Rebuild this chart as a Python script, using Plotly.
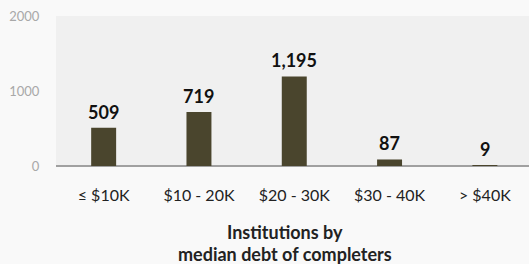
import plotly.graph_objects as go

categories = ["≤ $10K", "$10 - 20K", "$20 - 30K", "$30 - 40K", "> $40K"]
counts = [509, 719, 1195, 87, 9]
y_ticks = [0, 1000, 2000]
title_lines = ["Institutions by", "median debt of completers"]

FONT = "Lato"
W, H = 529, 264
ML, MR, MT, MB = 56, 0, 16, 98
plot_w = W - ML - MR
plot_h = H - MT - MB

fig = go.Figure()
fig.add_trace(go.Bar(
    x=categories, y=counts,
    marker=dict(color="#4a452d", line=dict(width=0)),
    hoverinfo="skip",
))

for c, v in zip(categories, counts):
    fig.add_annotation(
        x=c, y=v, xref="x", yref="y", text=f"<b>{v:,}</b>",
        showarrow=False, yanchor="bottom", yshift=3,
        font=dict(family=FONT, size=18, color="#111111"),
    )

# title lines, centred at given pixel rows below the plot area
for line, py in zip(title_lines, [232, 254]):
    fig.add_annotation(
        x=(285 - ML) / plot_w, y=(H - MB - py) / plot_h,
        xref="paper", yref="paper",
        text=f"<b>{line}</b>",
        showarrow=False, xanchor="center", yanchor="middle",
        font=dict(family=FONT, size=18, color="#222222"),
    )

fig.update_layout(
    width=W, height=H,
    margin=dict(l=ML, r=MR, t=MT, b=MB, pad=0),
    paper_bgcolor="#f9f9f9", plot_bgcolor="#f0f0f0",
    bargap=0.738, showlegend=False,
    xaxis=dict(
        range=[-0.5, 4.463],
        showgrid=False, zeroline=False, showline=False,
        ticks="outside", ticklen=15, tickcolor="rgba(0,0,0,0)",
        tickfont=dict(family=FONT, size=16, color="#222222"),
    ),
    yaxis=dict(
        range=[0, 2000], tickvals=y_ticks, showgrid=False,
        zeroline=True, zerolinecolor="#a0a0a0", zerolinewidth=1.5,
        showline=False, ticks="outside", ticklen=13, tickcolor="rgba(0,0,0,0)",
        tickfont=dict(family=FONT, size=13, color="#a8a8a8"),
    ),
)

fig.write_html(
    "out.html",
    config={"displayModeBar": False},
    post_script="document.body.style.margin='0';document.body.style.padding='0';"
                "document.body.style.background='#f9f9f9';",
)
